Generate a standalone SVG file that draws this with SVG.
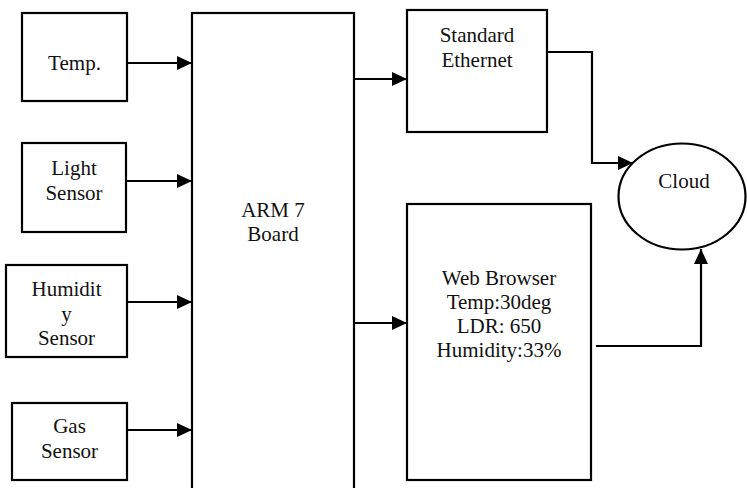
<svg xmlns="http://www.w3.org/2000/svg" width="747" height="488" viewBox="0 0 747 488">
<style>
.box{fill:#fff;stroke:#000;stroke-width:2.2}
.lbl{font-family:"Liberation Serif","Times New Roman",serif;font-size:21px;fill:#111;text-anchor:middle}
.con{fill:none;stroke:#000;stroke-width:2.2}
</style>
<defs>
<marker id="ah" markerUnits="userSpaceOnUse" markerWidth="16" markerHeight="14" refX="15" refY="7" orient="auto">
<path d="M0,0 L15,7 L0,14 z" fill="#000"/>
</marker>
</defs>
<g id="temp"><rect class="box" x="22" y="13" width="105" height="88"/><text class="lbl" x="74.5" y="70">Temp.</text></g>
<g id="light"><rect class="box" x="22" y="143" width="104" height="89"/><text class="lbl" x="74" y="175">Light</text><text class="lbl" x="74" y="200">Sensor</text></g>
<g id="humidity"><rect class="box" x="6" y="265" width="121" height="92"/><text class="lbl" x="66.5" y="296">Humidit</text><text class="lbl" x="66.5" y="321">y</text><text class="lbl" x="66.5" y="345">Sensor</text></g>
<g id="gas"><rect class="box" x="12" y="403" width="115" height="77"/><text class="lbl" x="69.5" y="433">Gas</text><text class="lbl" x="69.5" y="458">Sensor</text></g>
<g id="arm"><rect class="box" x="192" y="13" width="162" height="490"/><text class="lbl" x="273" y="217">ARM 7</text><text class="lbl" x="273" y="241">Board</text></g>
<g id="ethernet"><rect class="box" x="407" y="10" width="140" height="122"/><text class="lbl" x="477" y="42">Standard</text><text class="lbl" x="477" y="67">Ethernet</text></g>
<g id="browser"><rect class="box" x="407" y="204" width="184" height="276"/><text class="lbl" x="499" y="285">Web Browser</text><text class="lbl" x="499" y="309">Temp:30deg</text><text class="lbl" x="499" y="333">LDR: 650</text><text class="lbl" x="499" y="357">Humidity:33%</text></g>
<g id="cloud"><ellipse class="box" cx="682" cy="196.5" rx="63.5" ry="53"/><text class="lbl" x="684" y="188">Cloud</text></g>
<g id="connectors">
<path class="con" d="M127,63 H192" marker-end="url(#ah)"/>
<path class="con" d="M126,181 H192" marker-end="url(#ah)"/>
<path class="con" d="M127,302 H192" marker-end="url(#ah)"/>
<path class="con" d="M127,430 H192" marker-end="url(#ah)"/>
<path class="con" d="M354,79 H407" marker-end="url(#ah)"/>
<path class="con" d="M354,323 H407" marker-end="url(#ah)"/>
<path class="con" d="M547,52 H592 V163 H633" marker-end="url(#ah)"/>
<path class="con" d="M596,346 H701 V249" marker-end="url(#ah)"/>
</g>
</svg>
